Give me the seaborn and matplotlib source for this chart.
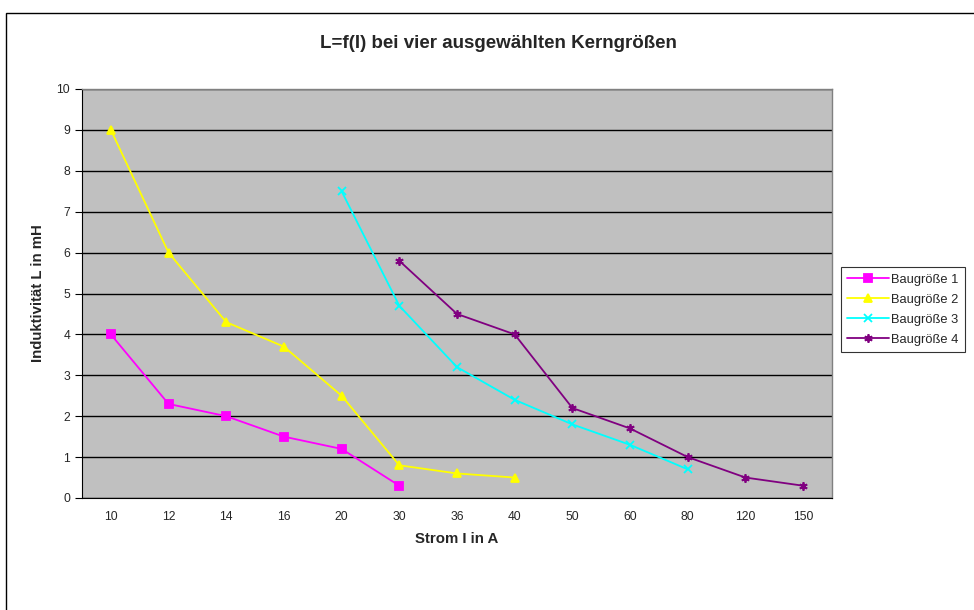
import matplotlib
matplotlib.use("Agg")
import matplotlib.pyplot as plt
from matplotlib.patches import Rectangle
import numpy as np
import pandas as pd
import seaborn as sns

categories = ["10", "12", "14", "16", "20", "30", "36", "40", "50", "60", "80", "120", "150"]

strom_1 = ["10", "12", "14", "16", "20", "30"]
induk_1 = [4.0, 2.3, 2.0, 1.5, 1.2, 0.3]

strom_2 = ["10", "12", "14", "16", "20", "30", "36", "40"]
induk_2 = [9.0, 6.0, 4.3, 3.7, 2.5, 0.8, 0.6, 0.5]

strom_3 = ["20", "30", "36", "40", "50", "60", "80"]
induk_3 = [7.5, 4.7, 3.2, 2.4, 1.8, 1.3, 0.7]

strom_4 = ["30", "36", "40", "50", "60", "80", "120", "150"]
induk_4 = [5.8, 4.5, 4.0, 2.2, 1.7, 1.0, 0.5, 0.3]

names = ["Baugröße 1", "Baugröße 2", "Baugröße 3", "Baugröße 4"]
colors = ["#FF00FF", "#FFFF00", "#00FFFF", "#800080"]
markers = ["s", "^", "x", (6, 2, 0)]

sns.set_style("white")
plt.rcParams["font.family"] = ["Liberation Sans", "DejaVu Sans"]

fig = plt.figure(figsize=(9.74, 6.1), dpi=100)
ax = fig.add_axes([82 / 974, 1 - 498 / 610, 750 / 974, 409 / 610])
ax.set_facecolor("#C0C0C0")

series = [(strom_1, induk_1), (strom_2, induk_2), (strom_3, induk_3), (strom_4, induk_4)]
for (xs, ys), name, col, mk in zip(series, names, colors, markers):
    df = pd.DataFrame({"pos": [categories.index(v) for v in xs], "L": ys})
    sns.lineplot(data=df, x="pos", y="L", ax=ax, color=col, marker=mk,
                 markersize=6, markeredgecolor=col, markeredgewidth=1.3,
                 linewidth=1.3, label=name, sort=False)

ax.set_xlim(-0.5, len(categories) - 0.5)
ax.set_ylim(0, 10)
ax.set_yticks(np.arange(0, 11, 1))
ax.yaxis.grid(True, color="black", linewidth=1)
ax.xaxis.grid(False)
ax.set_axisbelow(True)

ax.set_xticks(np.arange(len(categories)))
ax.set_xticklabels(categories)
ax.set_xticks(np.arange(-0.5, len(categories), 1), minor=True)
ax.tick_params(axis="x", which="major", length=0, pad=9, labelsize=8.7)
ax.tick_params(axis="x", which="minor", length=5, width=0.8, color="black", direction="out")
ax.tick_params(axis="y", which="major", length=5, width=0.8, color="black",
               direction="out", labelsize=8.7, left=True)

for side in ["left", "bottom"]:
    ax.spines[side].set_color("black")
    ax.spines[side].set_linewidth(0.8)
for side in ["top", "right"]:
    ax.spines[side].set_color("#808080")
    ax.spines[side].set_linewidth(1)

ax.set_xlabel("Strom I in A", fontsize=10.8, fontweight="bold", labelpad=7)
ax.set_ylabel("Induktivität L in mH", fontsize=10.8, fontweight="bold", labelpad=8)
fig.text(498 / 974, 1 - 43 / 610, "L=f(I) bei vier ausgewählten Kerngrößen",
         ha="center", va="center", fontsize=13.5, fontweight="bold")

leg = ax.legend(loc="upper left", bbox_to_anchor=(841 / 974, 1 - 267 / 610),
                bbox_transform=fig.transFigure, frameon=True, fancybox=False,
                fontsize=9.3, borderaxespad=0, handlelength=3.2, labelspacing=0.62,
                borderpad=0.5, handletextpad=0.2)
leg.get_frame().set_edgecolor("black")
leg.get_frame().set_linewidth(0.8)

fig.patches.append(Rectangle((6 / 974, -0.1), 1.2, (610 - 13) / 610 + 0.1,
                             transform=fig.transFigure, fill=False,
                             edgecolor="black", linewidth=1))

fig.savefig("out.png", dpi=100)
